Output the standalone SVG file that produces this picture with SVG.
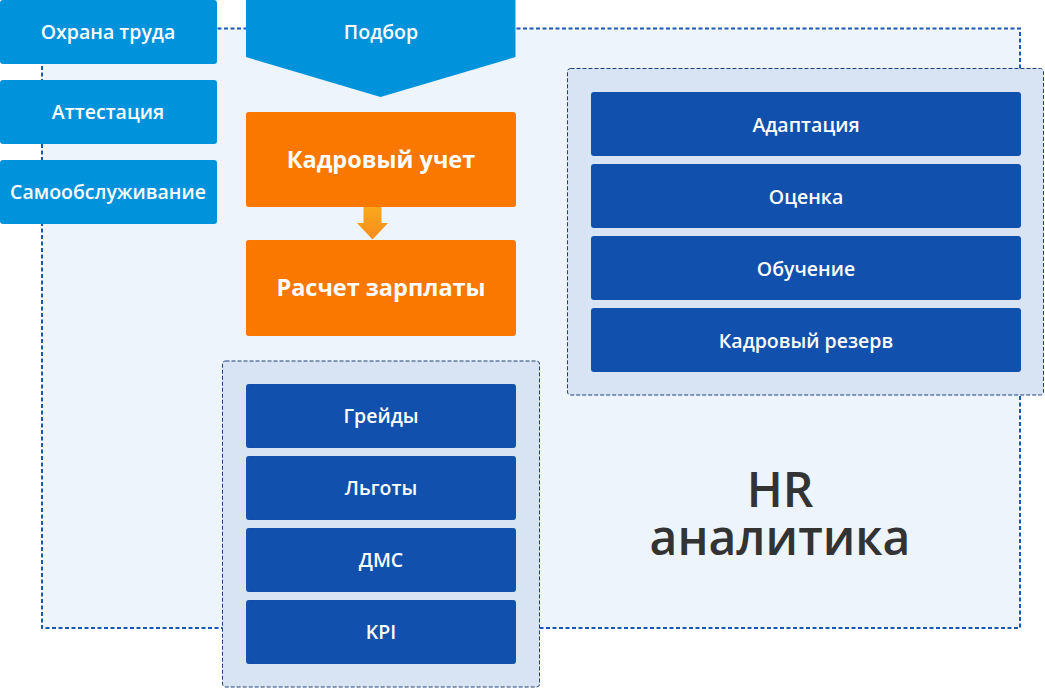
<svg xmlns="http://www.w3.org/2000/svg" width="1045" height="688" viewBox="0 0 1045 688">
<defs>
<style>
.lt{fill:#0093DB}
.dk{fill:#1150AC}
.or{fill:#FA7700}
.grp{fill:#D8E4F4;stroke:#1F3F7C;stroke-width:1;stroke-dasharray:4 2}
.t{font-family:"Open Sans","Noto Sans","Liberation Sans",sans-serif;font-size:19.5px;font-weight:600;fill:#FFFFFF;text-anchor:middle}
.tb{font-family:"Open Sans","Noto Sans","Liberation Sans",sans-serif;font-size:23.5px;font-weight:bold;fill:#FFFFFF;text-anchor:middle}
.hr{font-family:"Open Sans","Noto Sans","Liberation Sans",sans-serif;font-size:48px;font-weight:600;fill:#333333;text-anchor:middle}
</style>
<linearGradient id="ag" x1="0" y1="0" x2="0" y2="1">
<stop offset="0" stop-color="#F9A81A"/>
<stop offset="1" stop-color="#F78C1E"/>
</linearGradient>
</defs>
<rect width="1045" height="688" fill="#FFFFFF"/>
<g id="hr-area">
<rect x="42" y="28.5" width="978" height="599.5" fill="#EDF4FC" stroke="#1A58B5" stroke-width="2" stroke-dasharray="4 2.5"/>
<text class="hr" x="780" y="507">HR</text>
<text class="hr" x="780" y="555">аналитика</text>
</g>
<g id="ohrana"><rect class="lt" x="0" y="0" width="217" height="64" rx="3"/><text class="t" x="108" y="39">Охрана труда</text></g>
<g id="attestacia"><rect class="lt" x="0" y="80" width="217" height="64" rx="3"/><text class="t" x="108" y="119">Аттестация</text></g>
<g id="samoobsl"><rect class="lt" x="0" y="160" width="217" height="64" rx="3"/><text class="t" x="108" y="199">Самообслуживание</text></g>
<g id="podbor"><path class="lt" d="M246 0 H515.5 V57 L380.5 97 L246 57 Z"/><text class="t" x="381" y="39">Подбор</text></g>
<g id="connectors">
<path d="M363.5 207 H381.5 V223 H388 L372.5 239.5 L357 223 H363.5 Z" fill="url(#ag)"/>
</g>
<g id="kadr"><rect class="or" x="246" y="112" width="270" height="95" rx="3"/><text class="tb" x="381" y="168">Кадровый учет</text></g>
<g id="raschet"><rect class="or" x="246" y="240" width="270" height="96" rx="3"/><text class="tb" x="381" y="296">Расчет зарплаты</text></g>
<g id="group-bottom">
<rect class="grp" x="222.5" y="361" width="317" height="326" rx="3"/>
<g id="greidy"><rect class="dk" x="246" y="384" width="270" height="64" rx="3"/><text class="t" x="381" y="423">Грейды</text></g>
<g id="lgoty"><rect class="dk" x="246" y="456" width="270" height="64" rx="3"/><text class="t" x="381" y="495">Льготы</text></g>
<g id="dms"><rect class="dk" x="246" y="528" width="270" height="64" rx="3"/><text class="t" x="381" y="567">ДМС</text></g>
<g id="kpi"><rect class="dk" x="246" y="600" width="270" height="64" rx="3"/><text class="t" x="381" y="639">KPI</text></g>
</g>
<g id="group-right">
<rect class="grp" x="567.5" y="68.5" width="476" height="326.5" rx="3"/>
<g id="adaptacia"><rect class="dk" x="591" y="92" width="430" height="64" rx="3"/><text class="t" x="806" y="132">Адаптация</text></g>
<g id="ocenka"><rect class="dk" x="591" y="164" width="430" height="64" rx="3"/><text class="t" x="806" y="204">Оценка</text></g>
<g id="obuchenie"><rect class="dk" x="591" y="236" width="430" height="64" rx="3"/><text class="t" x="806" y="276">Обучение</text></g>
<g id="rezerv"><rect class="dk" x="591" y="308" width="430" height="64" rx="3"/><text class="t" x="806" y="348">Кадровый резерв</text></g>
</g>
</svg>
